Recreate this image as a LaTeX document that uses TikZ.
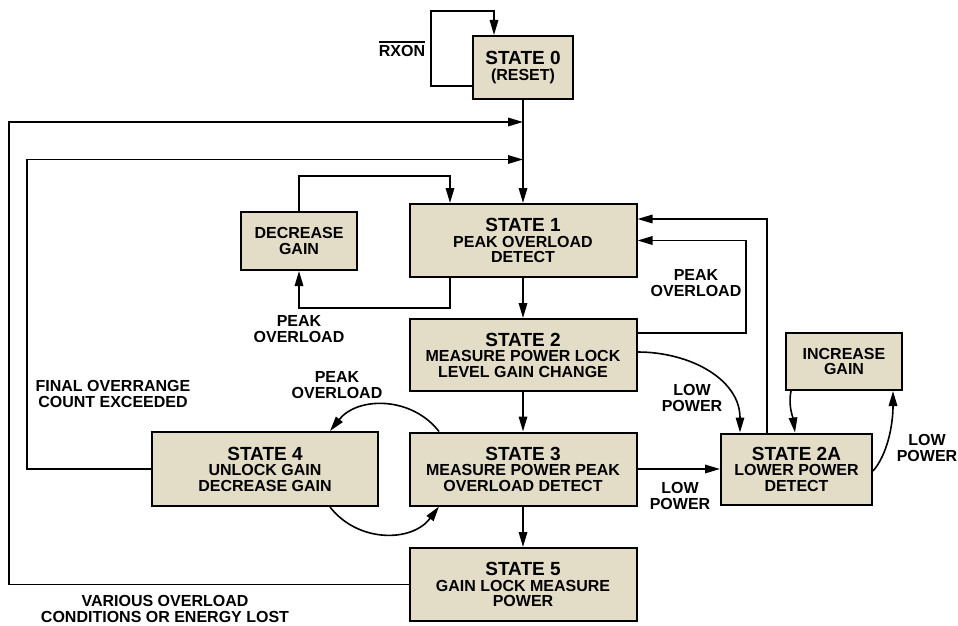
\documentclass[tikz,border=0pt]{standalone}
\usepackage{fontspec}
\setmainfont{Liberation Sans}
\usetikzlibrary{arrows.meta}
\definecolor{etatfond}{RGB}{227,220,199}
\newcommand{\etatfont}{\fontsize{16}{15.5}\selectfont\bfseries}
\newcommand{\etattitre}[1]{{\fontsize{19}{19}\selectfont #1}}

\begin{document}
\begin{tikzpicture}[x=1pt,y=-1pt,>={Triangle[length=15pt,width=8.5pt]},
  etat/.style={rectangle,draw,line width=2pt,fill=etatfond,align=center,
    inner sep=0pt,minimum width=227pt,minimum height=73pt,font=\etatfont},
  texte/.style={align=center,inner sep=0pt,font=\etatfont},
  fleche/.style={->,line width=1.6pt}]
\useasboundingbox (0,0) rectangle (958,626);

% Les etats
\node [etat,minimum width=100pt,minimum height=63pt] (etat0) at (523,67.5) {\etattitre{STATE 0}\\(RESET)};
\node [etat] (etat1) at (523,240.5) {\etattitre{STATE 1}\\PEAK OVERLOAD\\DETECT};
\node [etat,minimum width=116pt,minimum height=58pt] (baisse) at (299,241) {DECREASE\\GAIN};
\node [etat,minimum height=72pt] (etat2) at (523,355) {\etattitre{STATE 2}\\MEASURE POWER LOCK\\LEVEL GAIN CHANGE};
\node [etat] (etat3) at (523,469) {\etattitre{STATE 3}\\MEASURE POWER PEAK\\OVERLOAD DETECT};
\node [etat,minimum width=226pt,minimum height=74pt] (etat4) at (265,469) {\etattitre{STATE 4}\\UNLOCK GAIN\\DECREASE GAIN};
\node [etat,minimum width=151pt,minimum height=71pt] (etat2a) at (796.5,469) {\etattitre{STATE 2A}\\LOWER POWER\\DETECT};
\node [etat,minimum width=116pt,minimum height=57pt] (hausse) at (844,361.5) {INCREASE\\GAIN};
\node [etat] (etat5) at (523,584.5) {\etattitre{STATE 5}\\GAIN LOCK MEASURE\\POWER};

% Les textes
\node [texte] (rxon) at (402,49) {\vbox{\hrule height 1.4pt\kern 3pt\hbox{RXON}}};
\node [texte] (pic1) at (299,329) {PEAK\\OVERLOAD};
\node [texte] (pic2) at (696,283) {PEAK\\OVERLOAD};
\node [texte] (pic3) at (337,385) {PEAK\\OVERLOAD};
\node [texte] (faible1) at (692,398) {LOW\\POWER};
\node [texte] (faible2) at (680,496) {LOW\\POWER};
\node [texte] (faible3) at (927,448) {LOW\\POWER};
\node [texte] (final) at (113,394) {FINAL OVERRANGE\\COUNT EXCEEDED};
\node [texte] (divers) at (165,609) {VARIOUS OVERLOAD\\CONDITIONS OR ENERGY LOST};

% Dessiner les chemins
\coordinate (entree1) at (523,122);
\coordinate (entree2) at (523,159.5);
\draw[fleche] ([yshift=14pt]etat0.south west) -| (431,11) -| ([xshift=-29pt]etat0.north);
\draw[fleche] (etat0) -- (etat1);
\draw[fleche] (etat5.west) -| (9,122) -- (entree1);
\draw[fleche] (etat4.west) -| (27,159.5) -- (entree2);
\draw[fleche] (baisse.north) |- (450,176) -- ([xshift=-73pt]etat1.north);
\draw[fleche] ([xshift=-73pt]etat1.south) |- (299,308) -- (baisse.south);
\draw[fleche] (etat1) -- (etat2);
\draw[fleche] (etat2) -- (etat3);
\draw[fleche] (etat3) -- (etat5);
\draw[fleche] ([yshift=22pt]etat2.east) -| (746,240.5) -- (etat1.east);
\draw[fleche] ([xshift=-29.5pt]etat2a.north) |- ([yshift=21.5pt]etat1.east);
\draw[fleche] ([yshift=3pt]etat2.east) .. controls +(53,0) and +(0,-53) .. ([xshift=-56.5pt]etat2a.north);
\draw[fleche] (etat3.east) -- (etat2a.west);
\draw[fleche] ([xshift=-53pt]hausse.south) .. controls +(-3,15) and +(-2,-15) .. ([xshift=-1.5pt]etat2a.north);
\draw[fleche] ([yshift=-2pt]etat2a.east) .. controls +(14,-16) and +(0,35) .. ([xshift=49pt]hausse.south);
\draw[fleche] ([xshift=-84pt]etat3.north) .. controls +(-27,-35) and +(28,-35) .. ([xshift=65pt]etat4.north);
\draw[fleche] ([xshift=65pt]etat4.south) .. controls +(28,36) and +(-27,36) .. ([xshift=-84pt]etat3.south);
\end{tikzpicture}
\end{document}
